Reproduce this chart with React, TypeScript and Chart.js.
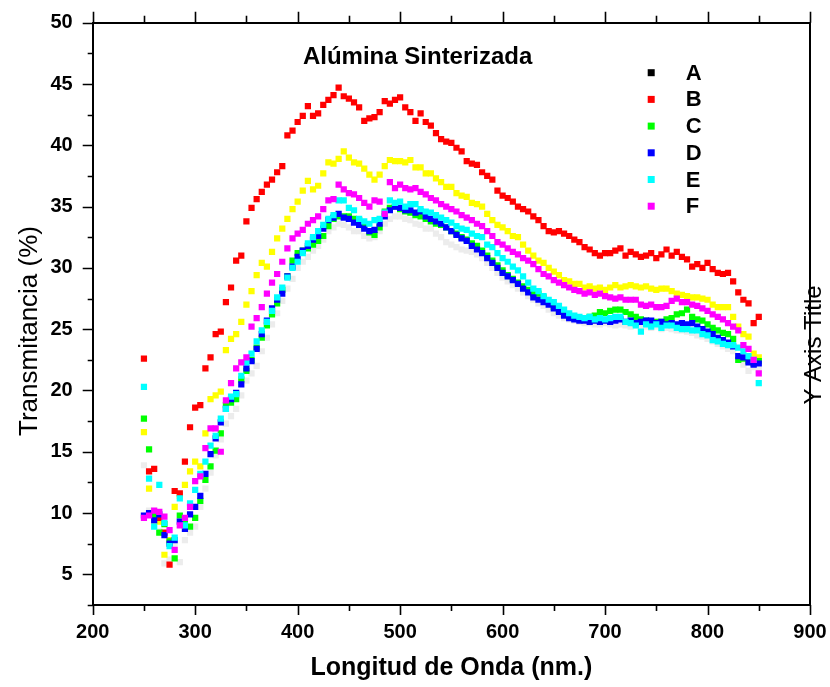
import { useEffect, useRef } from "react";
import { Chart, registerables } from "chart.js";

Chart.register(...registerables);

const FONT = '"Liberation Sans", Arial, sans-serif';

// Wavelength grid (nm), 5 nm steps from 250 to 850
const WAVELENGTHS: number[] = Array.from({ length: 121 }, (_, i) => 250 + 5 * i);

const SERIES_A = [
  13.9, 10.2, 9.8, 8.5, 5.9, 6.2, 7.5, 6.0, 7.8, 8.4,
  8.9, 10.5, 12.0, 13.3, 14.7, 16.0, 17.3, 17.9, 18.5, 19.6,
  20.8, 21.4, 22.0, 23.2, 24.3, 25.4, 26.3, 27.3, 28.3, 29.1,
  30.0, 30.5, 30.9, 31.4, 31.8, 32.3, 33.0, 33.3, 33.6, 33.5,
  33.3, 33.0, 33.0, 32.6, 32.4, 32.5, 33.0, 33.6, 34.0, 34.2,
  34.2, 34.0, 33.9, 33.6, 33.5, 33.2, 33.2, 32.8, 32.5, 32.1,
  31.9, 31.7, 31.5, 31.4, 31.3, 31.1, 30.8, 30.4, 30.0, 29.6,
  29.2, 28.9, 28.6, 28.3, 28.0, 27.7, 27.4, 27.1, 26.9, 26.6,
  26.3, 26.1, 25.9, 25.8, 25.7, 25.6, 25.5, 25.5, 25.4, 25.4,
  25.5, 25.4, 25.3, 25.4, 25.3, 25.2, 25.3, 25.2, 25.2, 25.1,
  25.2, 25.0, 25.1, 25.0, 24.9, 24.9, 24.8, 24.7, 24.5, 24.4,
  24.2, 24.0, 23.8, 23.6, 23.4, 23.2, 22.8, 22.1, 21.6, 21.9,
  21.7,
];

const SERIES_B = [
  22.6, 13.4, 13.6, 9.6, 8.4, 5.8, 11.8, 11.6, 14.2, 17.0,
  18.6, 18.8, 21.8, 22.7, 24.6, 24.8, 27.2, 28.4, 30.6, 31.0,
  33.8, 34.9, 35.6, 36.2, 36.8, 37.2, 37.8, 38.3, 40.8, 41.2,
  41.9, 42.4, 43.2, 42.4, 42.6, 43.3, 43.7, 44.1, 44.7, 44.0,
  43.8, 43.5, 43.1, 42.0, 42.2, 42.3, 42.7, 43.6, 43.4, 43.7,
  43.9, 43.1, 42.7, 42.0, 42.6, 41.9, 41.6, 41.0, 40.5, 40.3,
  40.2, 39.8, 39.5, 38.7, 38.5, 38.4, 37.8, 37.5, 37.2, 36.3,
  35.9, 35.7, 35.4, 35.0, 34.8, 34.6, 34.2, 33.9, 33.4, 33.0,
  32.9, 33.0, 32.8, 32.6, 32.3, 32.1, 31.7, 31.5, 31.2, 31.0,
  31.2, 31.2, 31.4, 31.6, 31.0, 31.3, 31.1, 30.9, 31.0, 31.2,
  30.8, 31.1, 31.5, 31.0, 31.3, 30.9, 30.7, 30.1, 30.3, 30.0,
  30.4, 29.9, 29.6, 29.5, 29.6, 28.9, 28.0, 27.4, 27.1, 25.5,
  26.0,
];

const SERIES_C = [
  17.7, 15.2, 9.8, 8.4, 9.1, 7.7, 6.3, 9.8, 9.3, 8.9,
  9.6, 11.0, 12.7, 13.8, 15.1, 16.5, 18.8, 19.0, 19.3, 20.9,
  21.6, 22.5, 23.5, 24.3, 25.3, 26.2, 27.1, 28.2, 29.3, 30.6,
  31.2, 31.4, 31.6, 31.9, 32.2, 32.6, 33.4, 34.0, 34.2, 34.2,
  34.2, 34.0, 33.9, 33.4, 32.9, 32.7, 33.3, 34.6, 34.9, 35.0,
  34.8, 34.6, 34.5, 34.3, 34.2, 34.0, 33.8, 33.6, 33.5, 33.3,
  33.0, 32.8, 32.5, 32.3, 32.0, 31.8, 31.4, 31.0, 30.6, 30.2,
  29.8, 29.4, 29.1, 28.8, 28.5, 28.2, 27.9, 27.9, 27.6, 27.2,
  26.8, 26.5, 26.2, 26.0, 25.9, 25.8, 25.9, 26.0, 26.1, 26.4,
  26.3, 26.5, 26.6, 26.6, 26.4, 26.2, 26.0, 25.8, 25.7, 25.5,
  25.6, 25.6, 25.8, 25.9, 26.2, 26.3, 26.6, 26.0, 25.8, 25.7,
  25.4, 25.1, 24.9, 24.7, 24.6, 24.2, 22.5, 22.6, 22.4, 22.2,
  22.4,
];

const SERIES_D = [
  9.8, 10.0, 9.4, 9.9, 8.2, 7.5, 7.8, 9.3, 8.7, 9.9,
  10.5, 11.4, 13.2, 14.8, 16.1, 17.4, 18.5, 19.3, 19.8, 20.5,
  21.8, 22.4, 23.4, 24.6, 25.7, 26.7, 27.4, 27.9, 29.3, 30.1,
  30.9, 31.4, 31.8, 32.3, 32.6, 33.2, 33.9, 34.1, 34.4, 34.1,
  34.0, 33.7, 33.5, 33.2, 33.0, 33.1, 33.6, 34.2, 34.7, 35.0,
  34.9, 34.7, 34.7, 34.5, 34.6, 34.2, 34.0, 33.8, 33.6, 33.3,
  33.0, 32.7, 32.4, 32.2, 31.8, 31.5, 31.2, 30.8, 30.4, 30.0,
  29.6, 29.3, 29.0, 28.7, 28.3, 28.0, 27.6, 27.4, 27.2, 27.0,
  26.7, 26.4, 26.1, 25.9, 25.8, 25.7, 25.7, 25.6, 25.7, 25.6,
  25.7, 25.6, 25.7, 25.8, 25.6, 25.7, 25.5, 25.6, 25.7, 25.7,
  25.5, 25.6, 25.4, 25.5, 25.4, 25.5, 25.4, 25.5, 25.2, 25.0,
  24.8, 24.6, 24.3, 24.1, 23.9, 23.6, 22.8, 22.7, 22.3, 22.1,
  22.2,
];

const SERIES_E = [
  20.3, 12.8, 8.9, 12.3, 9.2, 7.3, 8.0, 11.2, 9.0, 10.8,
  11.9, 13.2, 14.2, 15.5, 16.3, 17.7, 18.5, 19.5, 19.7, 21.2,
  22.3, 23.0, 24.0, 24.9, 25.6, 26.5, 27.6, 28.4, 29.2, 30.0,
  30.5, 31.2, 32.0, 32.5, 33.0, 33.5, 34.0, 34.3, 35.5, 35.5,
  34.9, 34.7, 34.0, 33.8, 33.6, 33.9, 34.0, 34.5, 35.5, 35.3,
  35.4, 35.0, 35.2, 35.2, 34.8, 34.6, 34.5, 34.3, 34.1, 33.9,
  33.7, 33.4, 33.2, 33.1, 32.8, 32.6, 32.5, 31.9, 31.7, 31.2,
  30.8, 30.5, 30.1, 29.8, 29.3, 28.8, 28.3, 28.1, 27.7, 27.4,
  27.2, 26.9, 26.6, 26.3, 26.1, 26.0, 25.9, 26.0, 25.8, 25.9,
  25.8, 25.9, 26.0, 26.0, 25.6, 25.5, 25.3, 24.8, 25.4, 25.2,
  25.4, 25.1, 25.3, 25.3, 25.1, 25.0, 25.0, 24.9, 24.9, 24.6,
  24.5, 24.1, 24.0, 23.8, 23.7, 23.7, 23.5, 23.2, 22.8, 22.5,
  20.6,
];

const SERIES_F = [
  9.6, 9.8, 10.2, 10.1, 9.7, 8.6, 7.0, 9.0, 9.6, 10.5,
  12.6, 13.0, 15.3, 16.9, 16.9, 15.0, 19.2, 20.6, 21.8, 22.3,
  22.7, 25.2, 25.9, 26.8, 27.9, 28.8, 29.5, 30.5, 31.6, 32.4,
  32.8, 33.1, 33.6, 33.9, 34.2, 34.8, 35.5, 35.6, 36.8, 36.4,
  36.1, 36.0, 35.7, 35.3, 35.0, 35.5, 35.4, 34.4, 37.0, 36.5,
  36.8, 36.5, 36.4, 36.5, 36.2, 36.0, 35.7, 35.5, 35.2, 35.0,
  34.8, 34.6, 34.3, 34.1, 33.9, 33.6, 33.4, 33.0, 32.6, 32.1,
  31.9, 31.6, 31.3, 31.1, 30.8, 30.6, 30.3, 29.9, 29.5, 29.3,
  29.0, 28.8, 28.6, 28.4, 28.2, 28.1, 27.9, 28.0, 27.8, 27.9,
  27.7, 27.6, 27.5, 27.6, 27.4, 27.4, 27.4, 27.0, 26.9, 27.0,
  26.8, 26.8, 26.9, 27.3, 27.5, 27.2, 27.2, 27.0, 26.9, 26.7,
  26.5, 26.2, 26.0, 25.8, 25.5, 25.2, 24.9, 23.7, 23.4, 22.5,
  21.4,
];

// Unlabelled yellow series (not listed in the legend)
const SERIES_YELLOW = [
  16.6, 12.0, 9.4, 9.3, 6.6, 7.8, 10.5, 11.4, 12.3, 13.4,
  14.2, 13.8, 16.5, 19.3, 19.6, 19.9, 23.3, 24.2, 24.6, 25.6,
  27.0, 28.1, 29.4, 30.4, 30.1, 31.3, 32.4, 33.2, 34.0, 34.8,
  35.4, 36.3, 37.1, 36.4, 36.7, 37.7, 38.6, 38.5, 38.9, 39.5,
  39.0, 38.6, 38.5, 38.1, 37.6, 37.2, 37.6, 38.3, 38.8, 38.7,
  38.7, 38.6, 38.8, 38.2, 38.2, 37.7, 37.7, 37.3, 37.0, 36.6,
  36.6, 36.1, 35.9, 35.8, 35.3, 35.2, 35.0, 34.4, 33.9, 33.5,
  33.3, 33.0, 32.6, 32.5, 31.9, 31.4, 31.0, 30.6, 30.4, 30.0,
  29.7, 29.4, 29.0, 28.9, 28.7, 28.7, 28.4, 28.5, 28.3, 28.4,
  28.2, 28.4, 28.6, 28.4, 28.5, 28.6, 28.5, 28.4, 28.5, 28.3,
  28.2, 28.3, 28.3, 28.1, 27.9, 27.8, 27.7, 27.6, 27.6, 27.5,
  27.4, 27.0, 26.8, 26.8, 26.8, 26.0, 25.2, 24.6, 24.4, 23.0,
  22.7,
];

const LEGEND_LABELS = ["A", "B", "C", "D", "E", "F"];
const CHART_TITLE = "Alúmina Sinterizada";
const X_TITLE = "Longitud de Onda (nm.)";
const Y_TITLE = "Transmitancia (%)";
const Y2_TITLE = "Y Axis Title";
const X_MIN = 200;
const X_MAX = 900;
const Y_MIN = 2.5;
const Y_MAX = 50;
const X_MINOR_STEP = 50;
const Y_MINOR_STEP = 2.5;

const toPoints = (vals: number[]) => WAVELENGTHS.map((x, i) => ({ x, y: vals[i] }));

const zeroPad = (s: any) => {
  s.paddingLeft = 0;
  s.paddingRight = 0;
  s.paddingTop = 0;
  s.paddingBottom = 0;
};

const framePlugin = {
  id: "frameDecor",
  afterDraw(chart: any) {
    const { ctx, chartArea } = chart;
    const { left, right, top, bottom } = chartArea;
    const xs = chart.scales.x;
    const ys = chart.scales.y;
    ctx.save();
    ctx.strokeStyle = "#000";
    ctx.lineWidth = 1.6;
    ctx.beginPath();
    for (let v = X_MIN; v <= X_MAX + 0.001; v += X_MINOR_STEP) {
      const px = Math.round(xs.getPixelForValue(v)) + 0.5;
      const major = v % 100 === 0;
      ctx.moveTo(px, bottom);
      ctx.lineTo(px, bottom + (major ? 10 : 6));
      ctx.moveTo(px, top);
      ctx.lineTo(px, top - (major ? 11 : 7));
    }
    for (let v = Y_MIN; v <= Y_MAX + 0.001; v += Y_MINOR_STEP) {
      const py = Math.round(ys.getPixelForValue(v)) + 0.5;
      const major = v % 5 === 0;
      ctx.moveTo(left, py);
      ctx.lineTo(left - (major ? 10 : 5), py);
    }
    ctx.stroke();

    ctx.fillStyle = "#000";
    // chart title inside plot
    ctx.font = `bold 24px ${FONT}`;
    ctx.textAlign = "center";
    ctx.textBaseline = "middle";
    ctx.fillText(CHART_TITLE, left + (right - left) * 0.453, top + 35);

    // left axis title
    ctx.save();
    ctx.font = `26px ${FONT}`;
    ctx.translate(30, 331);
    ctx.rotate(-Math.PI / 2);
    ctx.fillText(Y_TITLE, 0, 0);
    ctx.restore();

    // right axis title
    ctx.save();
    ctx.font = `24px ${FONT}`;
    ctx.translate(814, 345);
    ctx.rotate(-Math.PI / 2);
    ctx.fillText(Y2_TITLE, 0, 0);
    ctx.restore();

    // legend
    const legendItems = chart.data.datasets.filter((d: any) => d.inLegend);
    ctx.font = `bold 22px ${FONT}`;
    ctx.textAlign = "left";
    legendItems.forEach((d: any, i: number) => {
      const yc = top + 50 + i * 26.7;
      ctx.fillStyle = d.legendColor || d.backgroundColor;
      ctx.fillRect(left + 555, yc - 3.5, 7, 7);
      ctx.fillStyle = "#000";
      ctx.fillText(d.label, left + 593, yc + 1);
    });
    ctx.restore();
  },
};

export default function App() {
  const ref = useRef<HTMLCanvasElement>(null);

  useEffect(() => {
    if (!ref.current) return;
    const mk = (label: string, vals: number[], color: string, order: number, inLegend = true, legendColor?: string) => ({
      label,
      data: toPoints(vals),
      backgroundColor: color,
      borderColor: color,
      pointBackgroundColor: color,
      pointBorderWidth: 0,
      pointRadius: 4.4,
      pointHoverRadius: 4.4,
      pointStyle: "rect",
      showLine: false,
      order,
      inLegend,
      legendColor,
    });

    const datasets: any[] = [
      mk(LEGEND_LABELS[0], SERIES_A, "#ececec", 7, true, "#000000"),
      mk(LEGEND_LABELS[1], SERIES_B, "#ff0000", 5),
      mk(LEGEND_LABELS[2], SERIES_C, "#00ff00", 4),
      mk(LEGEND_LABELS[3], SERIES_D, "#0000ff", 3),
      mk(LEGEND_LABELS[4], SERIES_E, "#00ffff", 2),
      mk(LEGEND_LABELS[5], SERIES_F, "#ff00ff", 1),
      mk("", SERIES_YELLOW, "#ffff00", 6, false),
    ];

    const tickFont = { family: FONT, size: 20, weight: "bold" as const };

    const chart = new Chart(ref.current, {
      type: "scatter",
      data: { datasets },
      options: {
        responsive: false,
        animation: false,
        layout: { padding: 0 },
        plugins: {
          legend: { display: false },
          tooltip: { enabled: false },
          title: { display: false },
        },
        events: [],
        scales: {
          x: {
            type: "linear",
            position: "bottom",
            min: X_MIN,
            max: X_MAX,
            grid: { display: false, drawTicks: false },
            border: { display: true, color: "#000", width: 2 },
            ticks: { stepSize: 100, font: tickFont, color: "#000", padding: 15, maxRotation: 0, autoSkip: false },
            title: {
              display: true,
              text: X_TITLE,
              color: "#000",
              font: { family: FONT, size: 25, weight: "bold" },
              padding: { top: 0, bottom: 4 },
            },
            afterFit: (s: any) => {
              s.height = 82;
              zeroPad(s);
            },
          },
          x2: {
            type: "linear",
            position: "top",
            min: X_MIN,
            max: X_MAX,
            grid: { display: false, drawTicks: false },
            border: { display: true, color: "#000", width: 2 },
            ticks: { display: false },
            afterFit: (s: any) => {
              s.height = 22.7;
              zeroPad(s);
            },
          },
          y: {
            type: "linear",
            position: "left",
            min: Y_MIN,
            max: Y_MAX,
            grid: { display: false, drawTicks: false },
            border: { display: true, color: "#000", width: 2 },
            ticks: { stepSize: 5, font: tickFont, color: "#000", padding: 20, autoSkip: false },
            afterBuildTicks: (s: any) => {
              s.ticks = s.ticks.filter((t: any) => t.value % 5 === 0);
            },
            afterFit: (s: any) => {
              s.width = 92.7;
              zeroPad(s);
            },
          },
          y2: {
            type: "linear",
            position: "right",
            min: Y_MIN,
            max: Y_MAX,
            grid: { display: false, drawTicks: false },
            border: { display: true, color: "#000", width: 2 },
            ticks: { display: false },
            afterFit: (s: any) => {
              s.width = 20;
              zeroPad(s);
            },
          },
        },
      } as any,
      plugins: [framePlugin],
    });

    return () => chart.destroy();
  }, []);

  return (
    <div style={{ position: "absolute", left: 0, top: 0, width: 830, height: 687, background: "#fff" }}>
      <canvas ref={ref} width={830} height={687} style={{ display: "block", width: 830, height: 687 }} />
    </div>
  );
}
